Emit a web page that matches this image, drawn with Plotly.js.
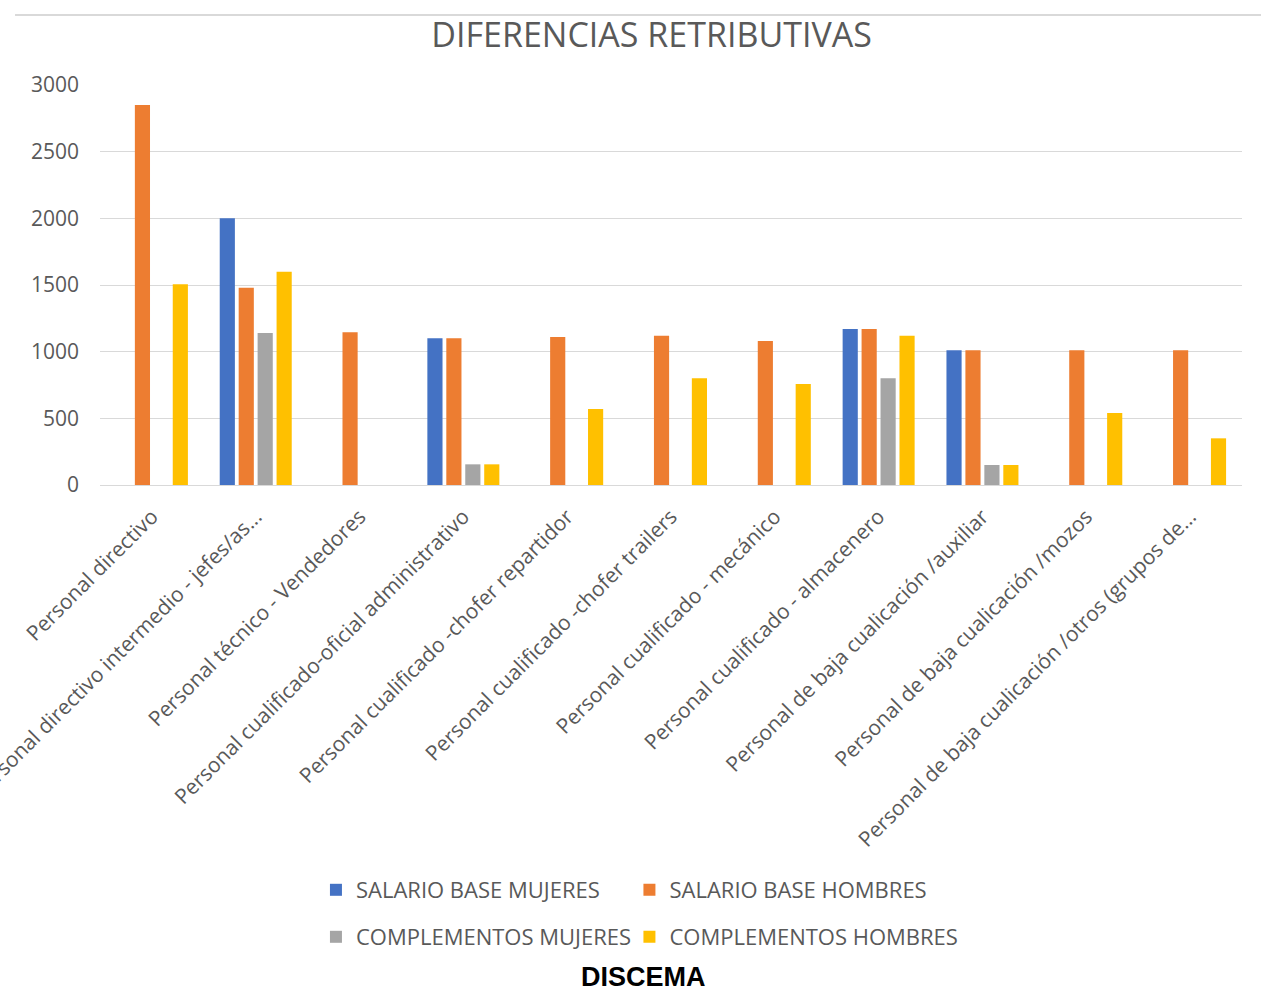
<!DOCTYPE html>
<html><head><meta charset="utf-8">
<script src="https://cdn.plot.ly/plotly-3.0.1.min.js"></script>
<style>html,body{margin:0;padding:0;background:#fff;}#chart{width:1261px;height:993px;}</style>
</head><body><div id="chart"></div>
<script>
const categories = [
  'Personal directivo',
  'Personal directivo intermedio - jefes/as...',
  'Personal técnico - Vendedores',
  'Personal cualificado-oficial administrativo',
  'Personal cualificado -chofer repartidor',
  'Personal cualificado -chofer trailers',
  'Personal cualificado - mecánico',
  'Personal cualificado - almacenero',
  'Personal de baja cualicación /auxiliar',
  'Personal de baja cualicación /mozos',
  'Personal de baja cualicación /otros (grupos de...'
];
const salarioBaseMujeres  = [null, 2000, null, 1100, null, null, null, 1170, 1010, null, null];
const salarioBaseHombres  = [2850, 1480, 1145, 1100, 1110, 1120, 1080, 1170, 1010, 1010, 1010];
const complementosMujeres = [null, 1140, null, 155, null, null, null, 800, 150, null, null];
const complementosHombres = [1505, 1600, null, 155, 570, 800, 757, 1120, 150, 540, 350];
const seriesNames = ['SALARIO BASE MUJERES', 'SALARIO BASE HOMBRES', 'COMPLEMENTOS MUJERES', 'COMPLEMENTOS HOMBRES'];
const seriesColors = ['#4472C4', '#ED7D31', '#A5A5A5', '#FFC000'];
const yTickValues = [0, 500, 1000, 1500, 2000, 2500, 3000];
const chartTitle = 'DIFERENCIAS RETRIBUTIVAS';
const sourceLabel = 'DISCEMA';

const seriesValues = [salarioBaseMujeres, salarioBaseHombres, complementosMujeres, complementosHombres];
const legendIds = ['legend', 'legend2', 'legend3', 'legend4'];
// legend grid: 2 columns x 2 rows (paper coords)
const legendX = [0.1891, 0.4636, 0.1891, 0.4636];
const legendY = [-1.0125, -1.0125, -1.13, -1.13];

const textGrey = '#595959';
const sans = 'Open Sans, sans-serif';

const traces = seriesValues.map((vals, i) => ({
  type: 'bar',
  name: seriesNames[i],
  x: categories,
  y: vals,
  marker: {color: seriesColors[i], line: {width: 0}},
  legend: legendIds[i],
  showlegend: true,
  hoverinfo: 'x+y+name'
}));

const layout = {
  width: 1261,
  height: 993,
  margin: {l: 100, r: 19, t: 85, b: 508},
  paper_bgcolor: '#ffffff',
  plot_bgcolor: '#ffffff',
  showlegend: true,
  barmode: 'group',
  bargap: 0.27,
  bargroupgap: 0.2,
  title: {
    text: chartTitle,
    font: {family: sans, size: 34, color: textGrey},
    xref: 'paper', x: 0.483, xanchor: 'center',
    yref: 'container', y: 0.965, yanchor: 'middle'
  },
  xaxis: {
    type: 'category',
    tickangle: -45,
    tickfont: {family: sans, size: 21, color: textGrey},
    showgrid: false,
    showline: true,
    linecolor: '#d9d9d9',
    linewidth: 1,
    ticks: '',
    ticklabelstandoff: 10,
    automargin: false,
    fixedrange: true
  },
  yaxis: {
    range: [0, 3000],
    tickvals: yTickValues,
    tickfont: {family: sans, size: 21, color: textGrey},
    showgrid: true,
    gridcolor: '#d9d9d9',
    gridwidth: 1,
    zeroline: false,
    showline: false,
    ticks: '',
    ticklabelstandoff: 20,
    automargin: false,
    fixedrange: true
  },
  shapes: [{
    type: 'line', xref: 'paper', yref: 'paper',
    x0: -0.0744, x1: 1.06, y0: 1.175, y1: 1.175,
    line: {color: '#d9d9d9', width: 2}
  }],
  annotations: [{
    text: '<b>' + sourceLabel + '</b>',
    xref: 'paper', yref: 'paper',
    x: 0.476, y: -1.231, xanchor: 'center', yanchor: 'middle',
    showarrow: false,
    font: {family: 'Liberation Sans, Arial, sans-serif', size: 27, color: '#000000'}
  }]
};

legendIds.forEach((id, i) => {
  layout[id] = {
    visible: true,
    orientation: 'h',
    xanchor: 'left',
    yanchor: 'middle',
    x: legendX[i],
    y: legendY[i],
    font: {family: sans, size: 22, color: textGrey},
    itemwidth: 30,
    bgcolor: 'rgba(0,0,0,0)'
  };
});

Plotly.newPlot('chart', traces, layout, {displayModeBar: false, responsive: false});
</script>
</body></html>
